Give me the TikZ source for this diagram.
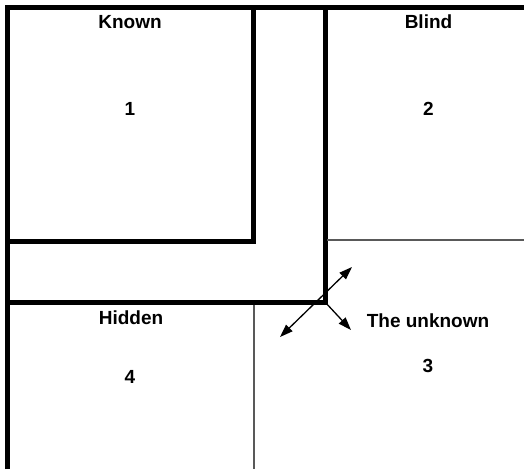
\documentclass[tikz,border=0pt]{standalone}
\usepackage{fontspec}
\setmainfont{Liberation Sans}
\usetikzlibrary{arrows.meta}
\begin{document}
\begin{tikzpicture}[x=1pt,y=-1pt,
  thickline/.style={line width=5pt,line cap=rect},
  thinline/.style={line width=1.1pt,black!65},
  lbl/.style={anchor=base,inner sep=0pt,font=\fontsize{19}{22}\selectfont\bfseries},
  arr/.style={line width=1.3pt,-{Triangle[length=13pt,width=9pt]}},
  darr/.style={line width=1.3pt,{Triangle[length=13pt,width=9pt]}-{Triangle[length=13pt,width=9pt]}}]
\useasboundingbox (0,0) rectangle (524,469);
% outer thick lines
\draw[line width=5pt] (7.5,469) -- (7.5,7.5) -- (524,7.5);
% known box
\draw[thickline] (253,7.5) -- (253,241) -- (7.5,241);
% L region
\draw[thickline] (325,7.5) -- (325,302) -- (7.5,302);
% thin lines
\draw[thinline] (327,240) -- (524,240);
\draw[thinline] (254,304.5) -- (254,469);
% arrows
\coordinate (c) at (325,302);
\coordinate (a1) at (280,337);
\coordinate (a2) at (352,267);
\coordinate (b1) at (351,330);
\draw[darr] (a1) -- (a2);
\draw[arr] (c) -- (b1);
% labels
\node[lbl] (known) at (130,28) {Known};
\node[lbl] (blind) at (428.5,28) {Blind};
\node[lbl] (one) at (130,115) {1};
\node[lbl] (two) at (428.5,115) {2};
\node[lbl] (hidden) at (131,324) {Hidden};
\node[lbl] (four) at (130,383) {4};
\node[lbl] (unknown) at (428,327) {The unknown};
\node[lbl] (three) at (428,372) {3};
\end{tikzpicture}
\end{document}
